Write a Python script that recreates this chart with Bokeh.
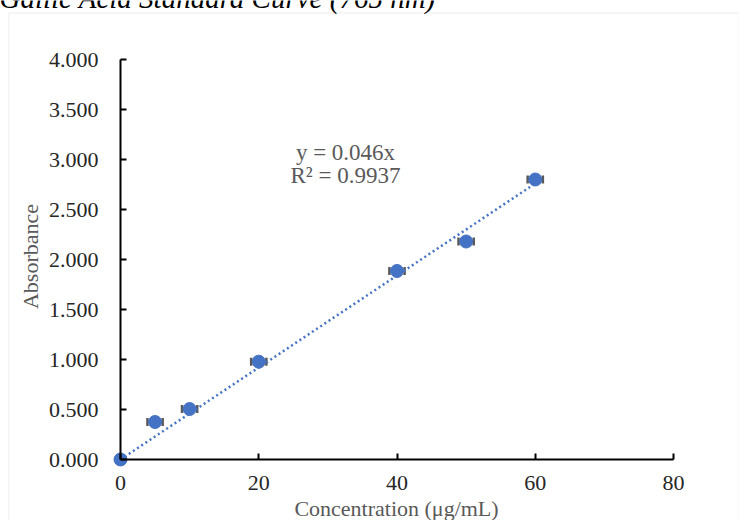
from bokeh.plotting import figure
from bokeh.models import (Range1d, FixedTicker, NumeralTickFormatter, Label,
                          Whisker, ColumnDataSource, BoxAnnotation, TeeHead)
from bokeh.embed import file_html
from bokeh.resources import INLINE

# ---- data ----
concentration = [0, 5, 10, 20, 40, 50, 60]
absorbance = [0.0, 0.375, 0.505, 0.978, 1.885, 2.180, 2.800]
conc_err = [0.0, 1.1, 1.1, 1.1, 1.1, 1.1, 1.1]
slope = 0.046
r_squared = 0.9937
x_ticks = [0, 20, 40, 60, 80]
y_ticks = [0.0, 0.5, 1.0, 1.5, 2.0, 2.5, 3.0, 3.5, 4.0]
title_text = "Gallic Acid Standard Curve (765 nm)"
x_label = "Concentration (μg/mL)"
y_label = "Absorbance"
eq_text = "y = %sx" % slope
r2_text = "R² = %s" % r_squared

# ---- layout (canvas pixels) ----
W, H = 739, 520
X0_PX, X80_PX = 120.0, 673.0      # px of x=0 and x=80
Y0_PX, Y4_PX = 459.0, 59.0        # px of y=0 and y=4
KX = (X80_PX - X0_PX) / 80.0
KY = (Y0_PX - Y4_PX) / 4.0


def dx(px):
    return (px - X0_PX) / KX


def dy(py):
    return (Y0_PX - py) / KY


XR = (dx(0), dx(W))
YR = (dy(H), dy(0))

FONT = "Liberation Serif"
BLUE = "#4472C4"
GRAY = "#595959"
FS = "22px"

p = figure(width=W, height=H, output_backend="svg", toolbar_location=None,
           x_range=Range1d(*XR), y_range=Range1d(*YR),
           min_border=0, min_border_left=0, min_border_right=0,
           min_border_top=0, min_border_bottom=0)
p.outline_line_color = None
p.grid.visible = False
p.background_fill_color = "white"
p.border_fill_color = "white"

for ax, ticks, bnd in ((p.xaxis[0], x_ticks, (0, 80)), (p.yaxis[0], y_ticks, (0, 4))):
    ax.ticker = FixedTicker(ticks=ticks)
    ax.fixed_location = 0
    ax.bounds = bnd
    ax.axis_line_color = "black"
    ax.axis_line_width = 2
    ax.major_tick_line_color = "black"
    ax.major_tick_line_width = 2
    ax.major_tick_in = 6
    ax.major_tick_out = 0
    ax.minor_tick_line_color = None
    ax.major_label_text_font = FONT
    ax.major_label_text_font_size = FS
    ax.major_label_text_color = "#262626"

p.yaxis[0].formatter = NumeralTickFormatter(format="0.000")
p.yaxis[0].major_label_standoff = 22
p.xaxis[0].major_label_standoff = 16

# outer chart box
box = BoxAnnotation(left=dx(8.3), right=dx(738.8), top=dy(12.5), bottom=dy(560),
                    fill_alpha=0, line_color="#d9d9d9", line_width=1.5)
p.add_layout(box)

# trendline
tx = [0, max(concentration)]
ty = [slope * v for v in tx]
p.line(tx, ty, line_color=BLUE, line_width=2.5, line_dash="2 3")

# error bars
src = ColumnDataSource(dict(
    x=concentration, y=absorbance,
    lo=[c - e for c, e in zip(concentration, conc_err)],
    hi=[c + e for c, e in zip(concentration, conc_err)]))
wh = Whisker(source=src, base="y", lower="lo", upper="hi", dimension="width",
             line_color=GRAY, line_width=1.5,
             lower_head=TeeHead(size=8, line_color=GRAY, line_width=2.5),
             upper_head=TeeHead(size=8, line_color=GRAY, line_width=2.5))
wh.level = "underlay"
p.add_layout(wh)

p.scatter("x", "y", source=src, size=13, fill_color=BLUE, line_color=BLUE)

# texts
p.add_layout(Label(x=dx(345), y=dy(152), text=eq_text, text_align="center",
                   text_baseline="middle", text_font=FONT, text_font_size="23px",
                   text_color=GRAY))
p.add_layout(Label(x=dx(345), y=dy(175), text=r2_text, text_align="center",
                   text_baseline="middle", text_font=FONT, text_font_size="23px",
                   text_color=GRAY))
p.add_layout(Label(x=dx(396), y=dy(508), text=x_label, text_align="center",
                   text_baseline="middle", text_font=FONT, text_font_size=FS,
                   text_color=GRAY))
p.add_layout(Label(x=dx(30), y=dy(256), text=y_label, text_align="center",
                   text_baseline="middle", angle=90, angle_units="deg",
                   text_font=FONT, text_font_size=FS, text_color=GRAY))
p.add_layout(Label(x=dx(-1), y=dy(-3), text=title_text, text_align="left",
                   text_baseline="alphabetic", text_font=FONT,
                   text_font_style="italic", text_font_size="29px",
                   text_color="black"))

open("out.html", "w").write(file_html(p, INLINE))
